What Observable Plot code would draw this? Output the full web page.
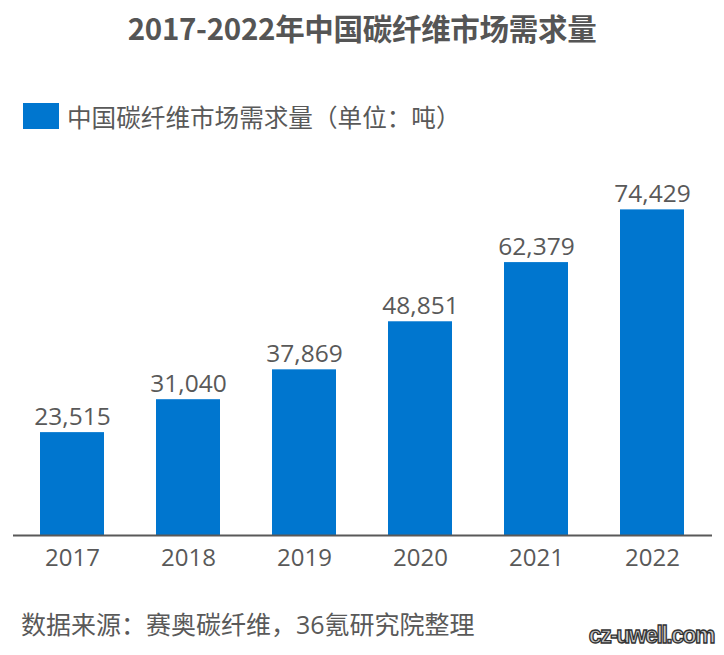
<!DOCTYPE html>
<html>
<head>
<meta charset="utf-8">
<script src="https://cdn.jsdelivr.net/npm/d3@7"></script>
<script src="https://cdn.jsdelivr.net/npm/@observablehq/plot@0.6"></script>
<style>
  html, body { margin: 0; padding: 0; background: #fff; }
  #wrap { position: relative; width: 724px; height: 655px; overflow: hidden;
    font-family: "Open Sans", "Noto Sans CJK SC", sans-serif; color: #595959; }
  #title { position: absolute; left: 0; top: 0; width: 724px; height: 54px; line-height: 54px;
    text-align: center; font-size: 29.5px; font-weight: bold; color: #555;
    font-family: "Noto Sans CJK SC", sans-serif; letter-spacing: -0.3px; }
  #legend-swatch { position: absolute; left: 23px; top: 103px; width: 36px; height: 26px; background: #0076CF; }
  #legend-text { position: absolute; left: 67px; top: 100px; height: 32px; line-height: 32px; font-size: 24.6px;
    font-family: "Noto Sans CJK SC", sans-serif; white-space: nowrap; }
  #chart { position: absolute; left: 0; top: 150px; }
  #caption { position: absolute; left: 21px; top: 608px; height: 32px; line-height: 32px; font-size: 25px;
    font-family: "Open Sans", "Noto Sans CJK SC", sans-serif; white-space: nowrap; }
  #mark { position: absolute; right: 10px; top: 621px; height: 28px; line-height: 28px; font-size: 23px;
    font-weight: bold; font-family: "Liberation Sans", sans-serif; color: #c8c8c8; letter-spacing: -1.5px;
    -webkit-text-stroke: 1.3px #333; }
</style>
</head>
<body>
<div id="wrap">
  <div id="title">2017-2022年中国碳纤维市场需求量</div>
  <div id="legend-swatch"></div>
  <div id="legend-text">中国碳纤维市场需求量（单位：吨）</div>
  <div id="chart"></div>
  <div id="caption">数据来源：赛奥碳纤维，36氪研究院整理</div>
  <div id="mark">cz-uwell.com</div>
</div>
<script>
const years = ["2017", "2018", "2019", "2020", "2021", "2022"];
const demand = [23515, 31040, 37869, 48851, 62379, 74429];

const data = years.map((year, i) => ({year, value: demand[i]}));
const fmt = d3.format(",");

const plot = Plot.plot({
  width: 724,
  height: 450,
  marginTop: 35,
  marginBottom: 65,
  marginLeft: 13,
  marginRight: 12,
  style: {fontFamily: "Open Sans, Noto Sans CJK SC, sans-serif", background: "transparent"},
  x: {domain: years, range: [14, 710], paddingInner: 0.45, paddingOuter: 0.225, label: null},
  y: {domain: [0, 80000], axis: null},
  marks: [
    Plot.barY(data, {x: "year", y: "value", fill: "#0076CF"}),
    Plot.ruleY([0], {stroke: "#595959", strokeWidth: 2}),
    Plot.text(data, {x: "year", y: "value", text: d => fmt(d.value), lineAnchor: "bottom", dy: -8,
      fontSize: 24.5, fill: "#595959"}),
    Plot.axisX({tickSize: 0, tickPadding: 13, fontSize: 24, color: "#595959", label: null})
  ]
});
document.getElementById("chart").appendChild(plot);
</script>
</body>
</html>
